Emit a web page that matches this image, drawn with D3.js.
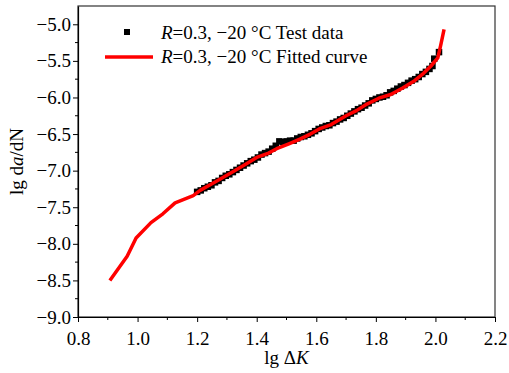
<!DOCTYPE html>
<html>
<head>
<meta charset="utf-8">
<script src="https://cdn.jsdelivr.net/npm/d3@7"></script>
<style>
  body { margin: 0; background: #fff; }
  text { font-family: "Liberation Serif", "Times New Roman", serif; }
</style>
</head>
<body>
<svg id="chart" width="509" height="373"></svg>
<script>
// test data (lg dK, lg da/dN)
const testX = [1.200, 1.212, 1.224, 1.236, 1.248, 1.260, 1.272, 1.284, 1.296, 1.308,
  1.320, 1.332, 1.344, 1.356, 1.368, 1.380, 1.392, 1.404, 1.416, 1.428,
  1.440, 1.452, 1.464, 1.476, 1.488, 1.500, 1.512, 1.524, 1.536, 1.548,
  1.560, 1.572, 1.584, 1.596, 1.608, 1.620, 1.632, 1.644, 1.656, 1.668,
  1.680, 1.692, 1.704, 1.716, 1.728, 1.740, 1.752, 1.764, 1.776, 1.788,
  1.800, 1.812, 1.824, 1.836, 1.848, 1.860, 1.872, 1.884, 1.896, 1.908,
  1.920, 1.932, 1.944, 1.956, 1.968, 1.980, 1.990, 1.996, 2.012];
const testY = [-7.29, -7.27, -7.24, -7.22, -7.20, -7.16, -7.14, -7.10, -7.07, -7.05,
  -7.02, -6.99, -6.96, -6.93, -6.90, -6.87, -6.85, -6.82, -6.78, -6.76,
  -6.74, -6.70, -6.66, -6.60, -6.61, -6.60, -6.59, -6.59, -6.56, -6.54,
  -6.53, -6.51, -6.49, -6.46, -6.43, -6.41, -6.39, -6.38, -6.35, -6.33,
  -6.30, -6.28, -6.25, -6.22, -6.19, -6.16, -6.14, -6.11, -6.08, -6.04,
  -6.02, -6.00, -5.99, -5.97, -5.93, -5.91, -5.88, -5.85, -5.83, -5.80,
  -5.77, -5.75, -5.72, -5.68, -5.65, -5.61, -5.57, -5.47, -5.38];

// fitted curve
const fitX = [0.907, 0.965, 0.995, 1.045, 1.085, 1.126, 1.187, 1.21, 1.25, 1.31,
  1.36, 1.40, 1.44, 1.467, 1.51, 1.545, 1.58, 1.61, 1.65, 1.70,
  1.735, 1.77, 1.81, 1.85, 1.89, 1.93, 1.96, 1.985, 2.008, 2.018, 2.029];
const fitY = [-8.50, -8.17, -7.92, -7.71, -7.59, -7.44, -7.34, -7.27, -7.18, -7.04,
  -6.92, -6.82, -6.76, -6.70, -6.63, -6.57, -6.50, -6.43, -6.37, -6.25,
  -6.18, -6.09, -6.01, -5.96, -5.87, -5.77, -5.67, -5.57, -5.46, -5.28, -5.07];

const xTicks = [0.8, 1.0, 1.2, 1.4, 1.6, 1.8, 2.0, 2.2];
const yTicks = [-9.0, -8.5, -8.0, -7.5, -7.0, -6.5, -6.0, -5.5, -5.0];

const legendLabels = ["R=0.3, \u221220 \u00b0C Test data", "R=0.3, \u221220 \u00b0C Fitted curve"];

const margin = {left: 78, right: 14, top: 6, bottom: 56};
const W = 509, H = 373;
const svg = d3.select("#chart");

const x = d3.scaleLinear().domain([0.8, 2.2]).range([margin.left, W - margin.right]);
const y = d3.scaleLinear().domain([-9, -4.75]).range([H - margin.bottom, margin.top]);

const fmt = d => d3.format(".1f")(d).replace("-", "\u2212");

// frame (top/right)
svg.append("rect")
  .attr("x", x(0.8)).attr("y", y(-4.75))
  .attr("width", x(2.2) - x(0.8)).attr("height", y(-9) - y(-4.75))
  .attr("fill", "none").attr("stroke", "#333").attr("stroke-width", 1.2);

// minor ticks
const xMinor = d3.range(0.9, 2.2, 0.2);
const yMinor = d3.range(-8.75, -4.75, 0.5);

const xAxis = svg.append("g").attr("transform", `translate(0,${y(-9)})`)
  .call(d3.axisBottom(x).tickValues(xTicks).tickFormat(fmt).tickSize(5).tickSizeOuter(0));
xAxis.append("g").selectAll("line").data(xMinor).join("line")
  .attr("x1", d => x(d)).attr("x2", d => x(d)).attr("y1", 0).attr("y2", 3)
  .attr("stroke", "#000");

const yAxis = svg.append("g").attr("transform", `translate(${x(0.8)},0)`)
  .call(d3.axisLeft(y).tickValues(yTicks).tickFormat(fmt).tickSize(5).tickSizeOuter(0));
yAxis.append("g").selectAll("line").data(yMinor).join("line")
  .attr("y1", d => y(d)).attr("y2", d => y(d)).attr("x1", 0).attr("x2", -3)
  .attr("stroke", "#000");

svg.selectAll(".domain").attr("stroke", "#000").attr("stroke-width", 1.2);
svg.selectAll(".tick line").attr("stroke", "#000");
svg.selectAll(".tick text")
  .style("font-family", "'Liberation Serif', serif")
  .style("font-size", "19px").attr("fill", "#000");
xAxis.selectAll(".tick text").attr("dy", "1.05em");
yAxis.selectAll(".tick text").attr("x", -7);

// axis titles
const xt = svg.append("text").attr("x", x(1.5)).attr("y", 364)
  .attr("text-anchor", "middle").style("font-size", "19px");
xt.append("tspan").text("lg \u0394");
xt.append("tspan").attr("font-style", "italic").text("K");

const yt = svg.append("text")
  .attr("transform", `translate(23,${y(-6.875)}) rotate(-90)`)
  .attr("text-anchor", "middle").style("font-size", "19px");
yt.append("tspan").text("lg d");
yt.append("tspan").attr("font-style", "italic").text("a");
yt.append("tspan").text("/dN");

// data squares
const pts = testX.map((d, i) => [d, testY[i]]);
svg.append("g").selectAll("rect").data(pts).join("rect")
  .attr("x", d => x(d[0]) - 3.25).attr("y", d => y(d[1]) - 3.25)
  .attr("width", 6.5).attr("height", 6.5).attr("fill", "#000");

// fitted curve
const fit = fitX.map((d, i) => [d, fitY[i]]);
svg.append("path").datum(fit)
  .attr("d", d3.line().x(d => x(d[0])).y(d => y(d[1])))
  .attr("fill", "none").attr("stroke", "#f00").attr("stroke-width", 3.5)
  .attr("stroke-linejoin", "round");

// legend
const lg = svg.append("g");
lg.append("rect").attr("x", 124).attr("y", 29).attr("width", 6).attr("height", 6).attr("fill", "#000");
lg.append("line").attr("x1", 105).attr("x2", 153).attr("y1", 57).attr("y2", 57)
  .attr("stroke", "#f00").attr("stroke-width", 3.5);
legendLabels.forEach((s, i) => {
  const t = lg.append("text").attr("x", 161).attr("y", 39 + i * 24).style("font-size", "19px");
  t.append("tspan").attr("font-style", "italic").text(s[0]);
  t.append("tspan").text(s.slice(1));
});
</script>
</body>
</html>
